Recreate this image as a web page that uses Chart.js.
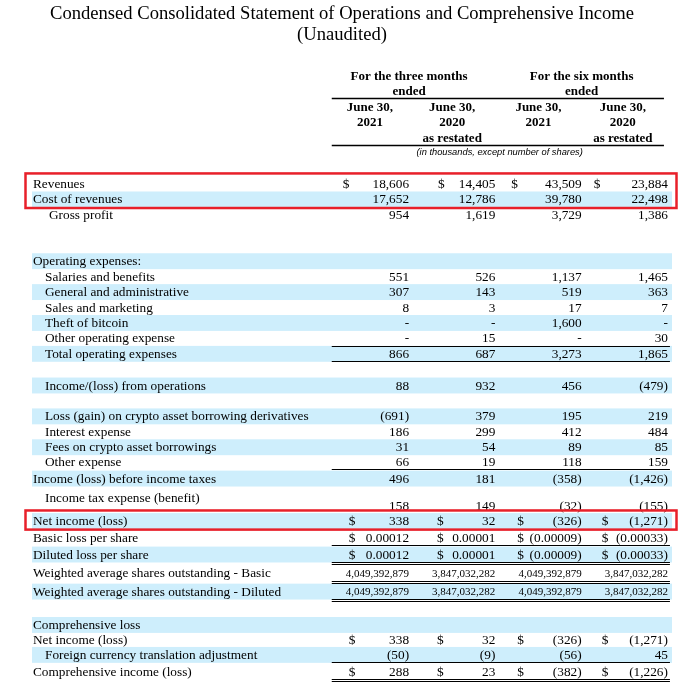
<!DOCTYPE html>
<html>
<head>
<meta charset="utf-8">
<script src="https://cdn.jsdelivr.net/npm/chart.js@4.4.0/dist/chart.umd.min.js"></script>
<style>
  html, body { margin: 0; padding: 0; background: #fff; }
  #wrap { width: 684px; height: 684px; }
</style>
</head>
<body>
<div id="wrap"><canvas id="chart"></canvas></div>
<script>
// table content
const rowLabels = [
    'Revenues', 'Cost of revenues', 'Gross profit',
    'Operating expenses:', 'Salaries and benefits', 'General and administrative',
    'Sales and marketing', 'Theft of bitcoin', 'Other operating expense',
    'Total operating expenses', 'Income/(loss) from operations',
    'Loss (gain) on crypto asset borrowing derivatives', 'Interest expense',
    'Fees on crypto asset borrowings', 'Other expense',
    'Income (loss) before income taxes', 'Income tax expense (benefit)',
    'Net income (loss)', 'Basic loss per share', 'Diluted loss per share',
    'Weighted average shares outstanding - Basic',
    'Weighted average shares outstanding - Diluted',
    'Comprehensive loss', 'Net income (loss)',
    'Foreign currency translation adjustment', 'Comprehensive income (loss)'
]
// 0 is shown as "-", null is an empty cell
const threeMonths2021 = [18606, 17652, 954, null, 551, 307, 8, 0, 0, 866, 88, -691, 186, 31, 66, 496, 158,
    338, 0.00012, 0.00012, 4049392879, 4049392879, null, 338, -50, 288]
const threeMonths2020 = [14405, 12786, 1619, null, 526, 143, 3, 0, 15, 687, 932, 379, 299, 54, 19, 181, 149,
    32, 0.00001, 0.00001, 3847032282, 3847032282, null, 32, -9, 23]
const sixMonths2021 = [43509, 39780, 3729, null, 1137, 519, 17, 1600, 0, 3273, 456, 195, 412, 89, 118, -358, -32,
    -326, -0.00009, -0.00009, 4049392879, 4049392879, null, -326, -56, -382]
const sixMonths2020 = [23884, 22498, 1386, null, 1465, 363, 7, 0, 30, 1865, -479, 219, 484, 85, 159, -1426, -155,
    -1271, -0.00033, -0.00033, 3847032282, 3847032282, null, -1271, 45, -1226]
const columns = [threeMonths2021, threeMonths2020, sixMonths2021, sixMonths2020]

const titleLines = ['Condensed Consolidated Statement of Operations and Comprehensive Income', '(Unaudited)']
const periodHeads = [['For the three months', 'ended'], ['For the six months', 'ended']]
const columnHeads = [['June 30,', '2021'], ['June 30,', '2020', 'as restated'],
    ['June 30,', '2021'], ['June 30,', '2020', 'as restated']]
const unitNote = '(in thousands, except number of shares)'

// layout (row slots on the y scale, styles)
const rowPos = [0, 1, 2, 5, 6, 7, 8, 9, 10, 11, 13.05, 15.05, 16.05, 17.05, 18, 19.08, 20.83,
    21.83, 22.92, 24, 25.2, 26.4, 28.56, 29.55, 30.5, 31.6]
const indent = [0, 0, 2, 0, 1, 1, 1, 1, 1, 1, 1, 1, 1, 1, 1, 0, 1, 0, 0, 0, 0, 0, 0, 0, 1, 0]
const indentPx = [0, 12, 16]
const bandRows = [1, 3, 5, 7, 9, 10, 11, 13, 15, 17, 19, 21, 22, 24]
const dollarRows = [0, 17, 18, 19, 23, 25]
const smallRows = [20, 21]
const singleRule = [8, 9, 14, 18, 24]
const doubleRule = [19, 20, 21, 25]
const boxes = [[0, 1], [17, 17]]
const dollarOffset = [26, 28, 22, 20]
const dollarOffsetTop = [20, 29, 16, 12]
const headNudge = [4, 0, 0, -2]

const SERIF = 'Liberation Serif'
const BAND = 'rgb(206,238,252)'
const BODY = '13.3px "' + SERIF + '"'

function fmt(v) {
    if (v === 0) return '-'
    const a = Math.abs(v)
    const s = a < 1 ? a.toFixed(5) : a.toLocaleString('en-US')
    return v < 0 ? '(' + s + ')' : s
}

const tablePlugin = {
    id: 'table',
    beforeDatasetsDraw(chart) {
        const {ctx, scales: {x, y}} = chart
        ctx.save()
        ctx.fillStyle = BAND
        bandRows.forEach(i => {
            const top = y.getPixelForValue(rowPos[i] - 0.55)
            const bot = y.getPixelForValue(rowPos[i] + 0.48)
            ctx.fillRect(32, top, 640, bot - top)
        })
        ctx.restore()
    },
    afterDatasetsDraw(chart) {
        const {ctx, scales: {x, y}} = chart
        ctx.save()
        ctx.fillStyle = '#000'
        ctx.textBaseline = 'middle'

        // headers
        ctx.font = 'bold 13px "' + SERIF + '"'
        ctx.textAlign = 'center'
        periodHeads.forEach((lines, p) => {
            lines.forEach((t, j) => ctx.fillText(t, x.getPixelForValue(p * 2 + 0.5), y.getPixelForValue(-7 + j)))
        })
        columnHeads.forEach((lines, k) => {
            lines.forEach((t, j) => ctx.fillText(t, x.getPixelForValue(k) + headNudge[k], y.getPixelForValue(-5 + j)))
        })
        ctx.font = 'italic 9.3px "Liberation Sans"'
        ctx.fillText(unitNote, x.getPixelForValue(1.55), y.getPixelForValue(-2.07))

        const lineL = x.getPixelForValue(-0.5) + 9
        const lineR = x.getPixelForValue(3.5) + 2
        ctx.strokeStyle = '#000'
        ctx.lineWidth = 1.3
        const hline = (py, l, r) => {
            ctx.beginPath()
            ctx.moveTo(l, Math.round(py) + 0.5)
            ctx.lineTo(r, Math.round(py) + 0.5)
            ctx.stroke()
        }
        hline(y.getPixelForValue(-5.6), lineL, lineR - 6)
        hline(y.getPixelForValue(-2.57), lineL, lineR - 6)

        // row labels
        ctx.textAlign = 'left'
        ctx.font = BODY
        rowLabels.forEach((t, i) => {
            const shift = i === 16 ? -0.48 : 0
            ctx.fillText(t, 33 + indentPx[indent[i]], y.getPixelForValue(rowPos[i] + shift))
        })

        // values, from the dataset elements
        chart.data.datasets.forEach((ds, k) => {
            const meta = chart.getDatasetMeta(k)
            const right = x.getPixelForValue(k + 0.5)
            meta.data.forEach((el, j) => {
                const i = ds.data[j].row
                ctx.textAlign = 'right'
                ctx.font = smallRows.includes(i) ? '11px "' + SERIF + '"' : BODY
                ctx.fillText(fmt(ds.data[j].v), right, el.y)
                if (dollarRows.includes(i)) {
                    const off = i === 0 ? dollarOffsetTop[k] : dollarOffset[k]
                    ctx.textAlign = 'left'
                    ctx.fillText('$', x.getPixelForValue(k - 0.5) + off, el.y)
                }
            })
        })

        // rules under cells
        ctx.lineWidth = 1
        singleRule.forEach(i => hline(y.getPixelForValue(rowPos[i]) + 7, lineL, lineR))
        doubleRule.forEach(i => {
            hline(y.getPixelForValue(rowPos[i]) + 7, lineL, lineR)
            hline(y.getPixelForValue(rowPos[i]) + 9, lineL, lineR)
        })

        // red highlight boxes
        ctx.strokeStyle = '#e8202a'
        ctx.lineWidth = 2.5
        boxes.forEach(([a, b]) => {
            const top = y.getPixelForValue(rowPos[a] - 0.72)
            const bot = y.getPixelForValue(rowPos[b] + 0.52)
            ctx.strokeRect(25.5, top, 651, bot - top)
        })
        ctx.restore()
    }
}

const datasets = columns.map((col, k) => ({
    data: col.map((v, i) => ({x: k, y: rowPos[i], v: v, row: i})).filter(p => p.v !== null),
    pointRadius: 0,
    pointHoverRadius: 0,
    showLine: false
}))

const ctx = document.getElementById('chart').getContext('2d')
const myChart = new Chart(ctx, {
    type: 'scatter',
    data: { datasets: datasets },
    options: {
        responsive: true,
        maintainAspectRatio: false,
        animation: false,
        events: [],
        layout: { padding: 0 },
        plugins: {
            legend: { display: false },
            tooltip: { enabled: false },
            title: {
                display: true,
                text: titleLines,
                color: '#000',
                font: { family: SERIF, size: 18.6, weight: 'normal', lineHeight: 1.15 },
                padding: { top: 3.5, bottom: 10.9 }
            }
        },
        scales: {
            x: { type: 'linear', min: -4.24, max: 3.686, display: false },
            y: { type: 'linear', reverse: true, min: -8.25, max: 32.35, display: false }
        }
    },
    plugins: [tablePlugin]
})
</script>
</body>
</html>
